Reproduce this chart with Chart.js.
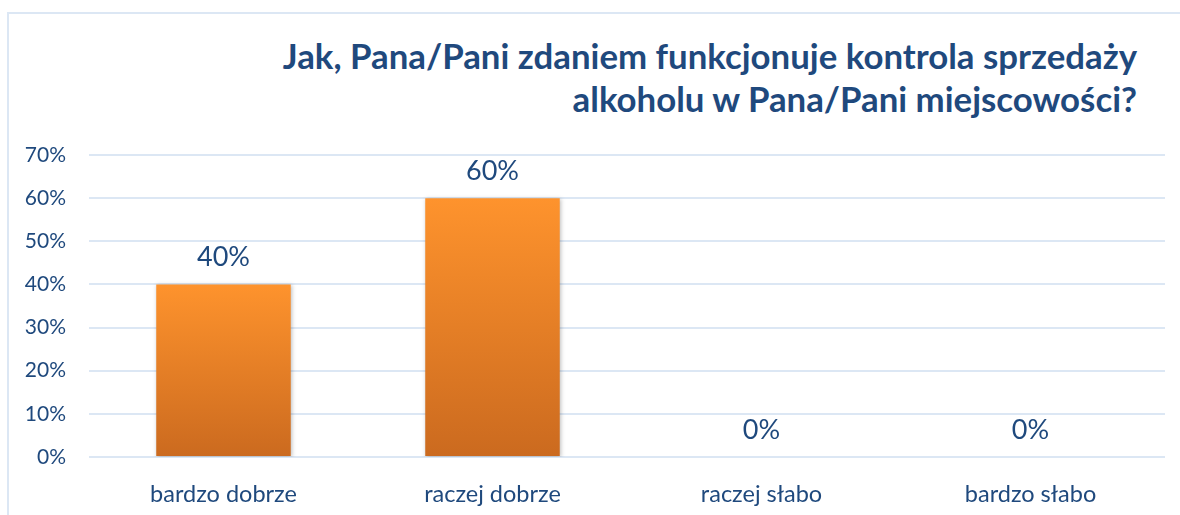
<!DOCTYPE html>
<html lang="pl">
<head>
  <meta charset="UTF-8" />
  <title>Kontrola sprzedaży alkoholu</title>
  <style>
    html, body { margin: 0; padding: 0; background: #fff; }
    .frame {
      position: absolute; left: 7px; top: 12px; width: 1180px; height: 510px;
      border-left: 2px solid #dce7f4; border-top: 2px solid #dce7f4;
    }
    .title {
      position: absolute; right: 43px; top: 34px; text-align: right;
      font-family: Lato, "Open Sans", sans-serif; font-weight: bold;
      font-size: 34.8px; line-height: 43px; color: #1f497d;
    }
    #chart { position: absolute; left: 0; top: 0; }
  </style>
</head>
<body>
<div class="frame"></div>
<div class="title">Jak, Pana/Pani zdaniem funkcjonuje kontrola sprzedaży<br>alkoholu w Pana/Pani miejscowości?</div>
<canvas id="chart" width="1180" height="515"></canvas>

<script src="https://cdn.jsdelivr.net/npm/chart.js"></script>
<script>
  const categories = ['bardzo dobrze', 'raczej dobrze', 'raczej słabo', 'bardzo słabo'];
  const shares = [40, 60, 0, 0];
  const yTicks = [0, 10, 20, 30, 40, 50, 60, 70];

  const textColor = '#1f497d';
  const gridColor = '#dce7f4';
  const fontFamily = 'Lato, "Open Sans", sans-serif';

  // orange gradient per bar, from its top down to the baseline
  function barFill(context) {
    const chart = context.chart;
    if (!chart.chartArea) return '#f7892c';
    const y = chart.scales.y;
    const top = y.getPixelForValue(context.raw);
    const bottom = y.getPixelForValue(0);
    if (bottom - top < 1) return '#f7892c';
    const g = chart.ctx.createLinearGradient(0, top, 0, bottom);
    g.addColorStop(0, '#fe932d');
    g.addColorStop(1, '#cb6a1f');
    return g;
  }

  const barShadow = {
    id: 'barShadow',
    beforeDatasetsDraw(chart) {
      const ctx = chart.ctx;
      ctx.save();
      ctx.shadowColor = 'rgba(0,0,0,0.25)';
      ctx.shadowBlur = 4;
      ctx.shadowOffsetX = 1;
      ctx.shadowOffsetY = 1;
    },
    afterDatasetsDraw(chart) {
      chart.ctx.restore();
    }
  };

  const valueLabels = {
    id: 'valueLabels',
    afterDatasetsDraw(chart) {
      const ctx = chart.ctx;
      const meta = chart.getDatasetMeta(0);
      ctx.save();
      ctx.font = '27px ' + fontFamily;
      ctx.fillStyle = textColor;
      ctx.textAlign = 'center';
      ctx.textBaseline = 'middle';
      meta.data.forEach((bar, i) => {
        ctx.fillText(shares[i] + '%', bar.x, bar.y - 27);
      });
      ctx.restore();
    }
  };

  new Chart(document.getElementById('chart'), {
    type: 'bar',
    data: {
      labels: categories,
      datasets: [{
        data: shares,
        backgroundColor: barFill,
        borderWidth: 0,
        categoryPercentage: 1,
        barPercentage: 0.5
      }]
    },
    options: {
      responsive: false,
      animation: false,
      layout: { padding: { top: 155, right: 15, bottom: 0, left: 0 } },
      plugins: {
        legend: { display: false },
        title: { display: false },
        tooltip: { enabled: false }
      },
      scales: {
        x: {
          afterFit(scale) { scale.height = 58; },
          grid: { display: false },
          border: { display: false },
          ticks: {
            color: textColor,
            padding: 15,
            font: { family: fontFamily, size: 23.5 }
          }
        },
        y: {
          min: 0,
          max: 70,
          afterFit(scale) { scale.width = 89; },
          afterBuildTicks(scale) { scale.ticks = yTicks.map(v => ({ value: v })); },
          grid: { color: gridColor, lineWidth: 2, drawTicks: false },
          border: { display: false },
          ticks: {
            color: textColor,
            padding: 23,
            font: { family: fontFamily, size: 21 },
            callback: v => v + '%'
          }
        }
      }
    },
    plugins: [barShadow, valueLabels]
  });
</script>
</body>
</html>
